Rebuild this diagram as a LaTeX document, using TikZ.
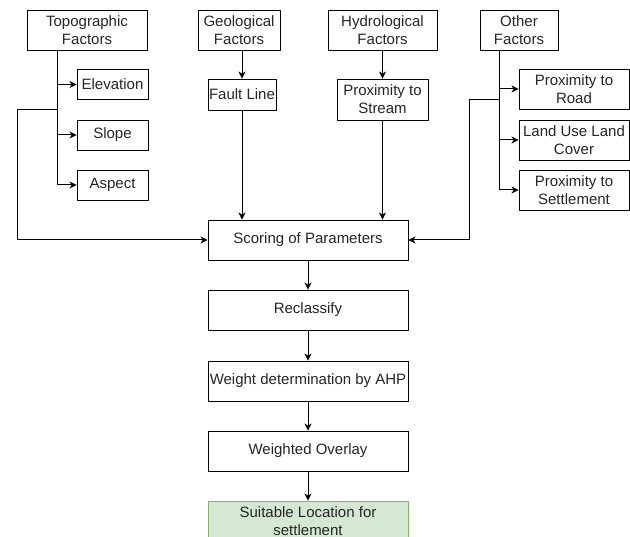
\documentclass[tikz,border=0pt]{standalone}
\usepackage{fontspec}
\setmainfont{Liberation Sans}
\usetikzlibrary{arrows.meta}
\definecolor{txt}{HTML}{262626}
\definecolor{gfill}{HTML}{D5E8D4}
\definecolor{gdraw}{HTML}{82B366}
\tikzset{
  box/.style={draw=black, line width=0.9pt, rectangle, inner sep=0pt, align=center,
    text=txt, font=\fontsize{15}{18}\selectfont},
  conn/.style={draw=black, line width=1pt, -{Stealth[length=7pt,width=7pt,inset=2pt]}},
  plain/.style={draw=black, line width=1pt},
}
\begin{document}
\begin{tikzpicture}[x=1pt,y=-1pt]
\useasboundingbox (0,0) rectangle (630,537);
\clip (0,0) rectangle (630,537);
\fill[white] (0,0) rectangle (630,537);
% top row
\node[box, minimum width=120, minimum height=40] (topo) at (87,30) {Topographic\\Factors};
\node[box, minimum width=82, minimum height=40] (geo) at (239,30) {Geological\\Factors};
\node[box, minimum width=109, minimum height=40] (hydro) at (382.5,30) {Hydrological\\Factors};
\node[box, minimum width=78, minimum height=40] (other) at (519,30) {Other\\Factors};
% topographic sub-factors
\node[box, minimum width=71, minimum height=30] (elev) at (112.5,84.5) {Elevation};
\node[box, minimum width=71, minimum height=30] (slope) at (112.5,135) {Slope};
\node[box, minimum width=71, minimum height=30] (aspect) at (112.5,185) {Aspect};
% geological / hydrological
\node[box, minimum width=68, minimum height=31] (fault) at (242,94.5) {Fault Line};
\node[box, minimum width=91, minimum height=41] (stream) at (382.5,99.5) {Proximity to\\Stream};
% other sub-factors
\node[box, minimum width=110, minimum height=40] (road) at (574,89) {Proximity to\\Road};
\node[box, minimum width=110, minimum height=40] (lulc) at (574,140) {Land Use Land\\Cover};
\node[box, minimum width=110, minimum height=40] (settle) at (574,190) {Proximity to\\Settlement};
% main chain
\node[box, minimum width=200, minimum height=40] (score) at (308,240) {Scoring of Parameters};
\node[box, minimum width=200, minimum height=40] (reclass) at (308,310) {Reclassify};
\node[box, minimum width=200, minimum height=40] (ahp) at (308,381) {Weight determination by AHP};
\node[box, minimum width=200, minimum height=40] (overlay) at (308,451) {Weighted Overlay};
\node[box, draw=gdraw, fill=gfill, minimum width=200, minimum height=40] (suit) at (308,521) {Suitable Location for\\settlement};
% coordinates for branch lines
\coordinate (tv) at (57,50);
\coordinate (tb) at (57,110);
\coordinate (lc) at (17,110);
\coordinate (ov) at (499,50);
\coordinate (ob) at (499,100);
\coordinate (rc) at (469,100);
% topographic branches
\draw[conn] (tv) |- (elev.west);
\draw[conn] (tv) |- (slope.west);
\draw[conn] (tv) |- (aspect.west);
\draw[conn] (tb) -- (lc) |- (score.west);
% geological / hydrological
\draw[conn] (geo.south -| fault.north) -- (fault.north);
\draw[conn] (hydro.south) -- (stream.north);
\draw[conn] (fault.south) -- (fault.south |- score.north);
\draw[conn] (stream.south) -- (stream.south |- score.north);
% other branches
\draw[conn] (ov) |- (road.west);
\draw[conn] (ov) |- (lulc.west);
\draw[conn] (ov) |- (settle.west);
\draw[conn] (ob) -- (rc) |- (score.east);
% main chain
\draw[conn] (score) -- (reclass);
\draw[conn] (reclass) -- (ahp);
\draw[conn] (ahp) -- (overlay);
\draw[conn] (overlay) -- (suit);
\end{tikzpicture}
\end{document}
